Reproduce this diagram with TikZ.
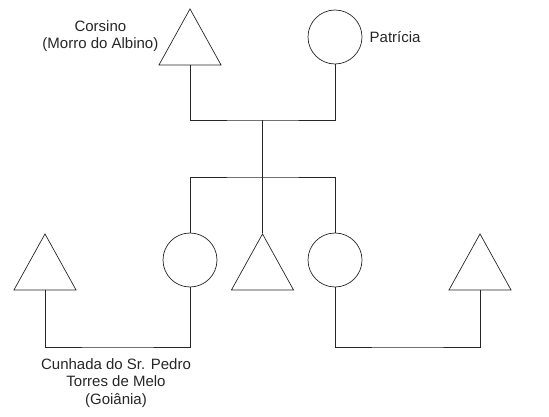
\documentclass[tikz,border=0pt]{standalone}
\usepackage{fontspec}
\setmainfont{Liberation Sans}
\usetikzlibrary{shapes.geometric}

\tikzset{
  male/.style={draw, isosceles triangle, shape border rotate=90,
    isosceles triangle stretches, minimum width=62pt, minimum height=56pt,
    inner sep=0pt, anchor=apex},
  female/.style={draw, circle, minimum size=54pt, inner sep=0pt},
  lbl/.style={font=\fontsize{15}{17.5}\selectfont, align=center, text=black!85}
}

\begin{document}
\begin{tikzpicture}[x=1pt,y=-1pt,line width=0.7pt,draw=black!85]
\useasboundingbox (0,0) rectangle (549,417);

% pais
\node[male] (corsino) at (190,8) {};
\node[female] (patricia) at (335,37) {};
\node[lbl, anchor=east] (lcorsino) at (162,36) {Corsino\\(Morro do Albino)};
\node[lbl, anchor=west] (lpatricia) at (366,37) {Patrícia};

\coordinate (uniao) at (262.5,120);
\draw (corsino.south) |- (uniao) -| (patricia.south);

% filhos
\node[female] (filha1) at (190,260) {};
\node[male] (filho) at (262.5,233) {};
\node[female] (filha2) at (335,260) {};

\coordinate (irmaos) at (262.5,177);
\draw (uniao) -- (filho.apex);
\draw (filha1.north) |- (irmaos) -| (filha2.north);

% casamentos
\node[male] (genro1) at (45,233) {};
\node[male] (genro2) at (480,233) {};

\coordinate (casal1) at (117.5,347);
\coordinate (casal2) at (407.5,347);
\draw (genro1.south) |- (casal1) -| (filha1.south);
\draw (filha2.south) |- (casal2) -| (genro2.south);

\node[lbl] (lcunhada) at (116,383) {Cunhada do Sr. Pedro\\Torres de Melo\\(Goiânia)};

\end{tikzpicture}
\end{document}
